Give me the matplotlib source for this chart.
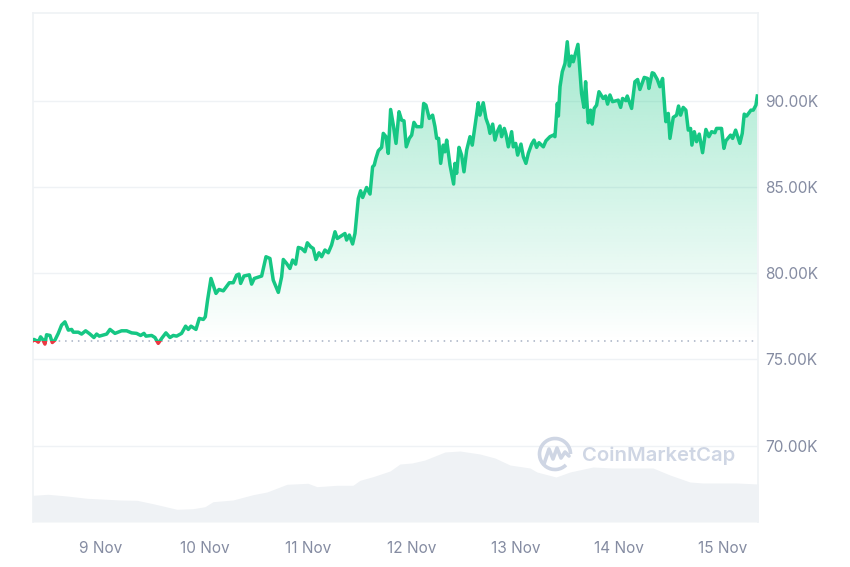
import numpy as np
import matplotlib
matplotlib.use("Agg")
import matplotlib.pyplot as plt
from matplotlib.patches import Rectangle, PathPatch, Arc
from matplotlib.path import Path

plt.rcParams['font.family'] = ['Inter', 'DejaVu Sans']

days = [8.344,8.353,8.379,8.395,8.417,8.437,8.459,8.475,8.508,8.530,8.556,8.588,8.620,8.652,8.685,8.717,8.733,8.781,8.813,8.852,8.894,8.932,8.958,8.984,
9.055,9.087,9.135,9.199,9.248,9.296,9.344,9.383,9.415,9.434,9.489,9.521,9.553,9.586,9.627,9.666,9.698,9.730,9.778,9.817,9.843,9.869,9.917,9.949,9.988,
10.007,10.029,10.062,10.084,10.110,10.139,10.181,10.239,10.277,10.309,10.332,10.348,10.380,10.432,10.454,10.480,10.551,10.593,10.631,10.663,10.712,10.744,10.760,10.792,10.824,10.850,10.879,10.905,10.937,10.969,10.992,
11.024,11.049,11.075,11.104,11.130,11.162,11.194,11.226,11.259,11.281,11.355,11.371,11.397,11.429,11.452,11.477,11.484,11.506,11.526,11.564,11.597,11.622,11.638,11.654,11.677,11.709,11.725,11.751,11.773,11.796,11.822,11.848,11.877,11.902,11.925,11.947,11.976,11.999,
12.021,12.047,12.095,12.115,12.137,12.169,12.201,12.224,12.240,12.259,12.279,12.304,12.320,12.337,12.369,12.404,12.417,12.433,12.456,12.481,12.504,12.530,12.562,12.584,12.642,12.658,12.690,12.716,12.739,12.755,12.781,12.803,12.826,12.851,12.867,12.893,12.909,12.932,12.964,12.980,
13.003,13.022,13.054,13.077,13.102,13.125,13.157,13.180,13.205,13.228,13.270,13.295,13.334,13.366,13.382,13.405,13.415,13.431,13.453,13.479,13.501,13.521,13.543,13.559,13.604,13.623,13.639,13.662,13.678,13.704,13.726,13.742,13.761,13.784,13.807,13.848,13.871,13.890,13.913,13.938,13.993,
14.016,14.035,14.067,14.080,14.122,14.154,14.180,14.202,14.244,14.276,14.289,14.321,14.337,14.370,14.395,14.421,14.444,14.453,14.476,14.492,14.524,14.556,14.575,14.595,14.620,14.646,14.669,14.691,14.704,14.727,14.749,14.775,14.807,14.839,14.868,14.894,14.926,14.942,14.990,
15.013,15.032,15.077,15.097,15.126,15.167,15.190,15.209,15.232,15.274,15.296,15.322,15.335]

price_k = [76.10,76.16,76.08,76.00,76.31,76.16,75.89,76.43,76.39,75.98,76.12,76.51,76.99,77.18,76.70,76.74,76.58,76.58,76.47,76.66,76.47,76.27,76.47,76.35,
76.47,76.74,76.51,76.66,76.66,76.54,76.51,76.39,76.51,76.35,76.39,76.27,75.93,76.22,76.54,76.27,76.39,76.35,76.51,76.93,76.74,76.93,76.74,77.38,77.32,
77.47,78.44,79.70,79.31,78.83,79.06,78.98,79.45,79.45,79.89,79.95,79.41,79.84,79.91,79.37,79.70,79.84,80.96,80.86,79.60,78.89,79.80,80.80,80.57,80.28,80.77,80.53,81.50,81.44,81.25,81.77,
81.54,81.44,80.80,81.19,80.96,81.35,81.19,81.64,82.41,82.02,82.31,81.93,82.22,81.70,82.31,83.86,84.34,84.79,84.40,84.98,84.60,86.18,86.28,86.67,87.11,87.31,88.12,87.93,86.96,89.51,88.60,87.54,89.38,88.89,88.85,87.34,87.83,88.02,
88.76,88.51,88.51,89.86,89.76,88.99,89.18,88.51,87.83,87.83,86.38,87.44,87.05,87.73,86.28,85.18,86.38,85.80,87.31,86.86,85.89,87.15,87.93,87.44,89.90,89.18,89.90,88.99,88.60,88.12,88.66,87.73,88.22,88.55,87.93,88.41,88.08,87.34,88.22,87.34,
87.54,86.86,87.50,86.76,86.38,86.96,87.50,87.73,87.31,87.58,87.34,87.69,87.93,88.02,87.93,89.86,89.13,90.83,91.70,92.18,93.44,92.03,92.61,92.28,93.29,91.70,90.44,89.63,91.12,88.74,89.47,88.66,89.57,89.76,90.54,90.15,90.29,89.82,90.35,89.96,90.05,
89.63,90.15,90.02,90.29,89.57,91.12,91.25,90.67,91.37,91.31,90.73,91.64,91.60,91.25,90.83,91.31,89.38,88.80,89.28,87.83,89.05,89.18,89.71,89.18,89.63,89.47,88.31,88.41,87.44,88.22,87.64,88.08,87.00,88.35,87.93,88.22,88.16,88.41,88.41,
87.25,87.69,88.02,87.83,88.31,87.54,88.12,89.24,89.13,89.47,89.47,89.76,90.29]

vol_days = [8.344,8.488,8.672,8.865,9.058,9.183,9.347,9.502,9.734,9.888,10.004,10.081,10.274,10.467,10.602,10.795,10.998,11.085,11.278,11.432,11.5,11.625,11.79,11.886,12.002,12.127,12.320,12.465,12.658,12.803,12.948,13.141,13.208,13.392,13.527,13.749,13.942,14.328,14.492,14.685,14.811,15.139,15.342]
volume = [26.7,27.7,26,23.7,22.7,22,21.7,18.3,12.7,13.3,15.3,20.3,22,27.3,30,37.7,38.7,35.3,36.7,36.7,41.7,45.3,51,58,59,62,70,71,68,64,57,54,50,45,50,55,54,54,47,40,39,39,38]
open_price = 76.08
y_ticks = [70, 75, 80, 85, 90]
y_labels = ["70.00K", "75.00K", "80.00K", "85.00K", "90.00K"]
x_ticks = [9, 10, 11, 12, 13, 14, 15]
x_labels = ["9 Nov", "10 Nov", "11 Nov", "12 Nov", "13 Nov", "14 Nov", "15 Nov"]

GREEN = "#16c784"; RED = "#ea3943"; GRID = "#eff2f5"; TXT = "#858ca2"; MARK = "#cfd6e4"
W, H = 850, 567
fig = plt.figure(figsize=(8.5, 5.67), dpi=100, facecolor="white")
ax = fig.add_axes([33/W, 1-522/H, 725/W, 509/H])
xlim = (8.344, 15.342); ylim = (65.56, 95.11)

grad = np.zeros((256, 2, 4))
grad[..., 0] = 0x16/255; grad[..., 1] = 0xc7/255; grad[..., 2] = 0x84/255
grad[..., 3] = np.linspace(0.38, 0.0, 256)[:, None]
im = ax.imshow(grad, extent=[xlim[0], xlim[1], open_price, max(price_k)], aspect="auto", origin="upper", zorder=1, interpolation="bilinear")
verts = [(days[0], open_price)] + list(zip(days, price_k)) + [(days[-1], open_price), (days[0], open_price)]
poly = PathPatch(Path(verts), transform=ax.transData, fc="none", ec="none")
ax.add_patch(poly)
im.set_clip_path(poly)

ax.set_xlim(xlim); ax.set_ylim(ylim)
ax.set_yticks(y_ticks, y_labels)
ax.set_xticks(x_ticks, x_labels)
ax.grid(axis="y", color=GRID, lw=1, zorder=0)
ax.set_axisbelow(True)
ax.spines["bottom"].set_visible(False)
for s in ("top", "left", "right"):
    ax.spines[s].set_color(GRID); ax.spines[s].set_linewidth(1.2)

ax.axhline(open_price, color="#a6b0c3", lw=1.1, ls=(0, (1, 3.2)), zorder=2)

upper = Rectangle((xlim[0], open_price), xlim[1]-xlim[0], ylim[1]-open_price, transform=ax.transData)
lower = Rectangle((xlim[0], ylim[0]), xlim[1]-xlim[0], open_price-ylim[0], transform=ax.transData)
l1, = ax.plot(days, price_k, color=GREEN, lw=2.5, zorder=3, solid_joinstyle="round")
l1.set_clip_path(upper)
l2, = ax.plot(days, price_k, color=RED, lw=2.5, zorder=3, solid_joinstyle="round")
l2.set_clip_path(lower)

ax2 = ax.twinx()
ax2.set_ylim(0, 509)
ax2.fill_between(vol_days, 0, volume, color=GRID, lw=0, zorder=1)
ax2.set_yticks([])
ax2.patch.set_visible(False)
for s in ax2.spines.values():
    s.set_visible(False)

ax.yaxis.tick_right()
ax.tick_params(axis="both", length=0, labelcolor=TXT, labelsize=11.1)
ax.tick_params(axis="x", pad=14)
ax.tick_params(axis="y", pad=5)

ov = fig.add_axes([0, 0, 1, 1]); ov.set_xlim(0, W); ov.set_ylim(H, 0); ov.axis("off"); ov.patch.set_visible(False)
ov.add_patch(Arc((555, 454), 31, 31, theta1=45, theta2=360, color=MARK, lw=2.6))
ov.plot([544, 549, 553, 557, 561, 565, 569], [464, 449, 459, 448, 458, 452, 456], color=MARK, lw=2.6, solid_joinstyle="round", solid_capstyle="round")
ov.text(582, 456, "CoinMarketCap", color=MARK, fontsize=14.6, fontweight="semibold", va="center", ha="left")

fig.savefig("out.png", dpi=100)
